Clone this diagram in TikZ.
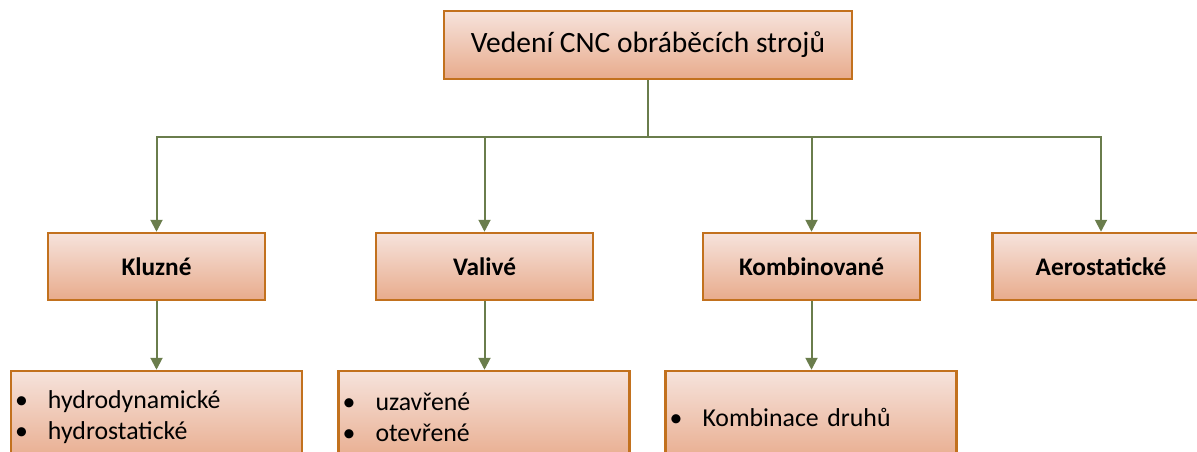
\documentclass[tikz,border=0pt]{standalone}
\usepackage{fontspec}
\setmainfont{Carlito}
\usetikzlibrary{arrows.meta}
\definecolor{topc}{HTML}{F6E3DC}
\definecolor{botc}{HTML}{E8AB8C}
\definecolor{bord}{HTML}{C2711E}
\definecolor{conn}{HTML}{6A7D4C}
\newcommand{\bul}{\makebox[33pt][l]{•}}
\tikzset{
  boxbase/.style={draw=bord, line width=2.5pt, top color=topc, bottom color=botc, inner sep=0pt},
  topbox/.style={boxbase, minimum width=408pt, minimum height=68pt, font=\fontsize{29.5}{34}\selectfont},
  lvtwo/.style={boxbase, minimum width=217pt, minimum height=67pt, font=\fontsize{25.3}{30}\selectfont\bfseries},
  lvthree/.style={boxbase, minimum width=291pt, minimum height=92pt, text width=283pt, inner xsep=4pt, align=left, font=\fontsize{25.8}{31}\selectfont},
  connline/.style={draw=conn, line width=2pt},
  arr/.style={connline, -{Triangle[width=12pt,length=12pt]}}
}
\begin{document}
\begin{tikzpicture}[x=1pt,y=-1pt]
\useasboundingbox (0,0) rectangle (1197,452);
\clip (0,0) rectangle (1197,452);
\node[topbox] (top) at (648,45) {Vedení CNC obráběcích strojů};
\node[lvtwo] (kl) at (156.5,266.5) {Kluzné};
\node[lvtwo] (va) at (484.5,266.5) {Valivé};
\node[lvtwo] (ko) at (811.5,266.5) {Kombinované};
\node[lvtwo] (ae) at (1101,266.5) {Aerostatické};
\node[lvthree] (kld) at (156.5,417) {\bul hydrodynamické\\\bul hydrostatické};
\node[lvthree] (vad) at (484,417) {\bul uzavřené\\\bul otevřené};
\node[lvthree] (kod) at (811,417) {\bul Kombinace druhů};
\coordinate (j) at (648,137);
\draw[connline] (top.south) -- (j);
\draw[arr] (j) -| (kl.north);
\draw[arr] (j) -| (va.north);
\draw[arr] (j) -| (ko.north);
\draw[arr] (j) -| (ae.north);
\draw[arr] (kl.south) -- (kld.north -| kl.south);
\draw[arr] (va.south) -- (vad.north -| va.south);
\draw[arr] (ko.south) -- (kod.north -| ko.south);
\end{tikzpicture}
\end{document}
